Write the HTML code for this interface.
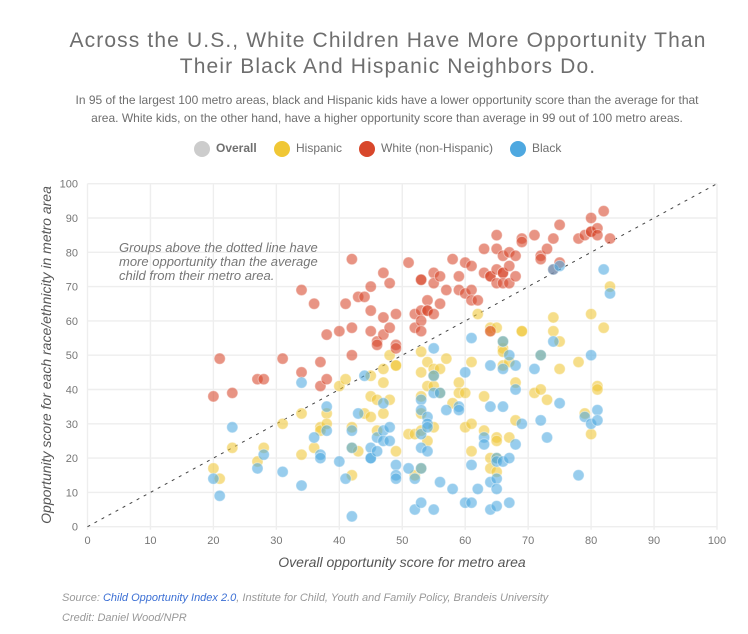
<!DOCTYPE html>
<html><head><meta charset="utf-8"><style>
html,body{margin:0;padding:0;background:#fff}
body{position:relative;width:748px;height:634px;overflow:hidden;font-family:"Liberation Sans",sans-serif}
.abs{position:absolute;white-space:nowrap}
#title{left:0;width:776px;top:28px;text-align:center;font-size:21px;line-height:26px;color:#6e6e6e;letter-spacing:1.13px}
#sub{left:0;width:774px;top:91px;text-align:center;font-size:12px;line-height:18px;color:#6e6e6e}
.leg{top:141px;height:16px;font-size:12px;line-height:15px;color:#707070}
.dot{position:absolute;top:141px;width:16px;height:16px;border-radius:50%}
.src{left:62px;font-size:11px;font-style:italic;color:#999}
a{color:#3b6fd4;text-decoration:none}
svg{position:absolute;left:0;top:0}
</style></head><body>
<div class="abs" id="title">Across the U.S., White Children Have More Opportunity Than<br>Their Black And Hispanic Neighbors Do.</div>
<div class="abs" id="sub">In 95 of the largest 100 metro areas, black and Hispanic kids have a lower opportunity score than the average for that<br>area. White kids, on the other hand, have a higher opportunity score than average in 99 out of 100 metro areas.</div>
<div class="dot" style="left:194px;background:#ccc"></div>
<div class="abs leg" style="left:216px;font-weight:bold">Overall</div>
<div class="dot" style="left:274px;background:#f0c735"></div>
<div class="abs leg" style="left:296px">Hispanic</div>
<div class="dot" style="left:359px;background:#d8472b"></div>
<div class="abs leg" style="left:381px">White (non-Hispanic)</div>
<div class="dot" style="left:510px;background:#4ea8e0"></div>
<div class="abs leg" style="left:532px">Black</div>
<svg id="chart" width="748" height="634" font-family="Liberation Sans, sans-serif"></svg>
<div class="abs src" style="top:592px">Source: <a href="#">Child Opportunity Index 2.0</a>, Institute for Child, Youth and Family Policy, Brandeis University</div>
<div class="abs src" style="top:612px">Credit: Daniel Wood/NPR</div>
<script>
const xTicks=[0,10,20,30,40,50,60,70,80,90,100];
const yTicks=[0,10,20,30,40,50,60,70,80,90,100];
const hispanicPoints=[[20,17],[21,14],[23,23],[27,19],[28,23],[31,30],[34,33],[34,21],[36,23],[37,29],[37,28],[38,33],[38,30],[40,41],[41,43],[42,29],[42,23],[42,15],[43,22],[44,33],[45,44],[45,38],[45,32],[46,37],[46,28],[47,46],[47,42],[47,33],[48,50],[48,37],[49,47],[49,47],[49,22],[51,27],[52,27],[52,15],[53,51],[53,45],[53,38],[53,33],[53,28],[53,17],[54,48],[54,41],[54,25],[55,46],[55,44],[55,41],[55,29],[56,46],[56,39],[57,49],[58,36],[59,42],[59,39],[60,39],[60,29],[61,48],[61,30],[61,22],[62,62],[63,38],[63,28],[64,58],[64,57],[64,20],[64,17],[65,58],[65,26],[65,25],[65,20],[65,16],[66,52],[66,51],[66,54],[66,47],[67,48],[67,26],[68,42],[68,31],[69,57],[69,57],[71,39],[72,50],[72,40],[73,37],[74,61],[74,57],[75,54],[75,46],[78,48],[79,33],[80,62],[80,27],[81,41],[81,40],[82,58],[83,70]];
const whitePoints=[[20,38],[21,49],[23,39],[27,43],[28,43],[31,49],[34,69],[34,45],[36,65],[37,48],[37,41],[38,56],[38,43],[40,57],[41,65],[42,78],[42,58],[42,50],[43,67],[44,67],[45,70],[45,63],[45,57],[46,54],[46,53],[47,74],[47,61],[47,56],[48,71],[48,58],[49,62],[49,53],[49,52],[51,77],[52,62],[52,58],[53,72],[53,72],[53,63],[53,60],[53,57],[54,66],[54,63],[54,63],[55,74],[55,71],[55,62],[56,73],[56,65],[57,69],[58,78],[59,73],[59,69],[60,77],[60,68],[61,76],[61,69],[61,66],[62,66],[63,81],[63,74],[64,73],[64,73],[64,57],[65,85],[65,81],[65,75],[65,71],[66,79],[66,74],[66,74],[66,71],[67,80],[67,76],[67,71],[68,79],[68,73],[69,84],[69,83],[71,85],[72,79],[72,78],[73,81],[74,84],[74,75],[75,88],[75,77],[78,84],[79,85],[80,90],[80,86],[80,86],[81,87],[81,85],[82,92],[83,84]];
const blackPoints=[[20,14],[21,9],[23,29],[27,17],[28,21],[31,16],[34,42],[34,12],[36,26],[37,21],[37,20],[38,35],[38,28],[40,19],[41,14],[42,28],[42,23],[42,3],[43,33],[44,44],[45,23],[45,20],[45,20],[46,26],[46,22],[47,36],[47,28],[47,25],[48,29],[48,25],[49,18],[49,15],[49,14],[51,17],[52,14],[52,5],[53,37],[53,34],[53,27],[53,23],[53,17],[53,7],[54,32],[54,30],[54,29],[54,22],[55,52],[55,44],[55,39],[55,5],[56,39],[56,13],[57,34],[58,11],[59,35],[59,34],[60,45],[60,7],[61,55],[61,18],[61,7],[62,11],[63,26],[63,24],[64,47],[64,35],[64,13],[64,5],[65,20],[65,19],[65,14],[65,11],[65,6],[66,54],[66,46],[66,35],[66,19],[67,50],[67,20],[67,7],[68,47],[68,40],[68,24],[69,30],[71,46],[72,50],[72,31],[73,26],[74,75],[74,54],[75,76],[75,36],[78,15],[79,32],[80,50],[80,30],[81,34],[81,31],[82,75],[83,68]];
const svg=document.getElementById('chart');
const NS='http://www.w3.org/2000/svg';
const sx=v=>87.5+v*6.295;
const sy=v=>526.7-v*3.43;
function mk(tag,attrs,text){
  const e=document.createElementNS(NS,tag);
  for(const k in attrs)e.setAttribute(k,attrs[k]);
  if(text!==undefined)e.textContent=text;
  svg.appendChild(e);
  return e;
}
xTicks.forEach(t=>{
  const l=mk('line',{x1:sx(t),x2:sx(t),y1:sy(100),y2:sy(0)+3,stroke:'#eeeeee','stroke-width':1.4});
  
  
  const s=mk('text',{x:sx(t),y:544,'text-anchor':'middle','font-size':11,fill:'#777'},t);
  
  
});
yTicks.forEach(t=>{
  const l=mk('line',{x1:sx(0),x2:sx(100),y1:sy(t),y2:sy(t),stroke:'#eeeeee','stroke-width':1.4});
  
  
  const s=mk('text',{x:78,y:sy(t)+4,'text-anchor':'end','font-size':11,fill:'#777'},t);
  
  
});
const diag=mk('line',{x1:sx(0),y1:sy(0),x2:sx(100),y2:sy(100),stroke:'#444','stroke-width':1,'stroke-dasharray':'3 5'});


function drawSeries(points,color,name){
  points.forEach(p=>{
    const c=mk('circle',{cx:sx(p[0]),cy:sy(p[1]),r:5.6,fill:color,'fill-opacity':.58,stroke:'#fff','stroke-opacity':.4,'stroke-width':1});
    
    
  });
}
drawSeries(hispanicPoints,'#f0c735','hispanic-point');
drawSeries(whitePoints,'#d8472b','white-point');
drawSeries(blackPoints,'#4ea8e0','black-point');
const noteLines=['Groups above the dotted line have','more opportunity than the average','child from their metro area.'];
noteLines.forEach((t,i)=>{
  const n=mk('text',{x:119,y:252+i*14,'font-size':13,'font-style':'italic',fill:'#777'},t);
  
  
});
const xTitle=mk('text',{x:402,y:567,'text-anchor':'middle','font-size':14,'font-style':'italic',fill:'#555'},'Overall opportunity score for metro area');


const yTitle=mk('text',{x:0,y:0,transform:'translate(51,355) rotate(-90)','text-anchor':'middle','font-size':14,'font-style':'italic',fill:'#555'},'Opportunity score for each race/ethnicity in metro area');


</script>
</body></html>
